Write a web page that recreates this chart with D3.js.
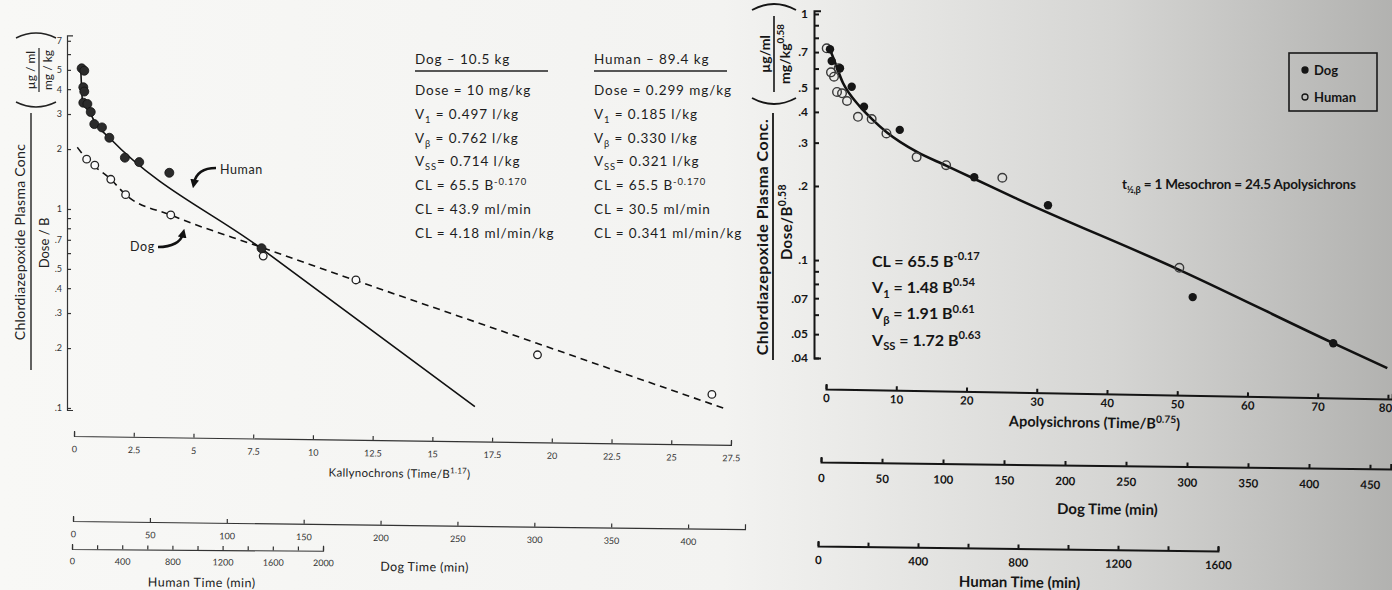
<!DOCTYPE html>
<html>
<head>
<meta charset="utf-8">
<script src="https://cdn.jsdelivr.net/npm/d3@7"></script>
<style>
  body { margin: 0; background: #f6f6f4; }
  svg { display: block; font-family: Lato, "Open Sans", sans-serif; }
</style>
</head>
<body>
<div id="chart"></div>
<script>
// ---------- Left panel: kallynochrons ----------
// filled points (human) and open points (dog), [kallynochrons, conc]
const leftHuman = [[0.32,5.09],[0.43,4.95],[0.39,4.09],[0.43,3.89],[0.39,3.42],[0.56,3.37],[0.70,3.07],
  [0.85,2.67],[1.17,2.57],[1.48,2.28],[2.13,1.81],[2.73,1.72],[3.99,1.52],[7.85,0.635]];
const leftDog = [[0.53,1.78],[0.87,1.66],[1.54,1.41],[2.16,1.18],[4.05,0.933],[7.92,0.580],
  [11.8,0.440],[19.4,0.185],[26.7,0.117]];
// fitted lines
const leftHumanFit = [[0.28,5.19],[0.36,3.46],[0.67,3.04],[0.88,2.72],[1.48,2.28],[7.79,0.639],[16.78,0.1015]];
const leftDogFit = [[0.14,2.04],[0.53,1.78],[1.54,1.41],[2.16,1.18],[4.05,0.933],[7.85,0.641],[19.4,0.211],[27.31,0.0986]];

const leftYTicks = [0.1,0.2,0.3,0.4,0.5,0.6,0.7,0.8,0.9,1,2,3,4,5,6,7];
const leftYLabels = [0.1,0.2,0.3,0.4,0.5,0.7,1,2,3,4,5,7];
const kallyTicks = [0,2.5,5,7.5,10,12.5,15,17.5,20,22.5,25,27.5];
const leftDogTimeTicks = [0,50,100,150,200,250,300,350,400];
const leftHumanTimeTicks = [0,200,400,600,800,1000,1200,1400,1600,1800,2000];
const leftHumanTimeLabels = [0,400,800,1200,1600,2000];

const dogHeader = "Dog – 10.5 kg";
const humanHeader = "Human – 89.4 kg";
const dogTable = ["Dose = 10 mg/kg", "V_{1} = 0.497 l/kg", "V_{β} = 0.762 l/kg", "V_{SS}= 0.714 l/kg",
  "CL = 65.5 B^{-0.170}", "CL = 43.9 ml/min", "CL = 4.18 ml/min/kg"];
const humanTable = ["Dose = 0.299 mg/kg", "V_{1} = 0.185 l/kg", "V_{β} = 0.330 l/kg", "V_{SS}= 0.321 l/kg",
  "CL = 65.5 B^{-0.170}", "CL = 30.5 ml/min", "CL = 0.341 ml/min/kg"];

// ---------- Right panel: apolysichrons ----------
const rightDog = [[0.57,0.719],[0.81,0.644],[1.99,0.602],[3.66,0.506],[5.41,0.420],[10.5,0.338],
  [21.1,0.217],[31.6,0.167],[52.2,0.0707],[72.2,0.0459]];
const rightHuman = [[0.1,0.725],[0.71,0.579],[1.14,0.556],[1.57,0.482],[1.8,0.602],[2.28,0.476],[2.99,0.443],
  [4.55,0.382],[6.5,0.374],[8.6,0.327],[12.9,0.262],[17.1,0.243],[25.1,0.216],[50.3,0.0930]];
const rightFit = [[0.4,0.73],[0.57,0.714],[2.42,0.524],[4.84,0.420],[6.55,0.374],[8.68,0.330],[12.95,0.275],
  [17.1,0.242],[21.1,0.214],[26.9,0.179],[50.2,0.0915],[72.2,0.0460],[79.9,0.0364]];

const rightYTicks = [0.04,0.05,0.06,0.07,0.08,0.09,0.1,0.2,0.3,0.4,0.5,0.6,0.7,0.8,0.9,1];
const rightYLabels = [0.04,0.05,0.07,0.1,0.2,0.3,0.4,0.5,0.7,1];
const apolyTicks = [0,10,20,30,40,50,60,70,80];
const rightDogTimeTicks = [0,50,100,150,200,250,300,350,400,450];
const rightHumanTimeTicks = [0,200,400,600,800,1000,1200,1400,1600];
const rightHumanTimeLabels = [0,400,800,1200,1600];

const rightEquations = ["CL = 65.5 B^{-0.17}", "V_{1} = 1.48 B^{0.54}", "V_{β} = 1.91 B^{0.61}", "V_{SS} = 1.72 B^{0.63}"];
const halfLifeText = "t_{½,β} = 1 Mesochron = 24.5 Apolysichrons";
const legendLabels = ["Dog", "Human"];

// ---------- helpers ----------
const fmtDec = d => d < 1 ? String(d).replace(/^0/, "") : String(d);

// text with _{sub} and ^{sup} pieces
function rich(sel, str, fs) {
  const parts = str.split(/(_\{[^}]*\}|\^\{[^}]*\})/).filter(s => s);
  let shift = 0;
  parts.forEach(p => {
    let off = 0, txt = p, small = false;
    if (p.startsWith("_{")) { txt = p.slice(2, -1); off = 0.3 * fs; small = true; }
    else if (p.startsWith("^{")) { txt = p.slice(2, -1); off = -0.42 * fs; small = true; }
    const t = sel.append("tspan").text(txt);
    if (off - shift !== 0) t.attr("dy", off - shift);
    if (small) t.attr("font-size", fs * 0.7);
    shift = off;
  });
}

const svg = d3.select("#chart")
  .append("svg")
  .attr("width", 1392)
  .attr("height", 590);

// scanned-paper background, darker to the right
const defs = svg.append("defs");
const bg = defs.append("linearGradient").attr("id", "paper").attr("x1", "0%").attr("x2", "100%");
[["0%", "#f8f8f6"], ["52%", "#f3f3f1"], ["62%", "#e9e9e7"], ["80%", "#d5d5d3"], ["100%", "#b2b2b0"]]
  .forEach(s => bg.append("stop").attr("offset", s[0]).attr("stop-color", s[1]));
defs.append("marker")
  .attr("id", "head")
  .attr("viewBox", "0 0 10 10")
  .attr("refX", 4).attr("refY", 5)
  .attr("markerWidth", 3.4).attr("markerHeight", 3.4)
  .attr("orient", "auto")
  .append("path").attr("d", "M0,0 L10,5 L0,10 z").attr("fill", "#111");

svg.append("rect").attr("width", 1392).attr("height", 590).attr("fill", "url(#paper)");

// bottom time axis, slightly tilted like the scan
function timeAxis(scale, ticks, labelled, y, angle, pad, bold) {
  const x0 = scale.range()[0];
  const g = svg.append("g")
    .attr("transform", `translate(0,${y}) rotate(${angle},${x0},0)`)
    .call(d3.axisBottom(scale).tickValues(ticks)
      .tickFormat(d => labelled.includes(d) ? d : "")
      .tickSizeInner(-4).tickSizeOuter(-5).tickPadding(pad));
  g.attr("font-family", null).attr("font-size", null);
  g.selectAll("path, line").attr("stroke", bold ? "#151515" : "#333").attr("stroke-width", bold ? 2 : 1.2);
  g.selectAll("text")
    .attr("fill", bold ? "#151515" : "#333")
    .attr("font-size", bold ? 11.5 : 9)
    .attr("font-weight", bold ? 700 : 400);
  return g;
}

// ================= LEFT PANEL =================
const xL = d3.scaleLinear().domain([0, 27.5]).range([74, 731]);
const yL = d3.scaleLog().domain([0.0977, 7.45]).range([410, 35.4]);

const yAxisL = svg.append("g")
  .attr("transform", "translate(67,0)")
  .call(d3.axisLeft(yL).tickValues(leftYTicks)
    .tickFormat(d => leftYLabels.includes(d) ? fmtDec(d) : "")
    .tickSizeInner(-4).tickSizeOuter(-6).tickPadding(5));
yAxisL.attr("font-family", null).attr("font-size", null);
yAxisL.selectAll("path, line").attr("stroke", "#333").attr("stroke-width", 1.2);
yAxisL.selectAll("text").attr("font-size", 9).attr("fill", "#333");

// y label, rotated fraction
const labL = svg.append("g").attr("transform", "rotate(-90)").attr("fill", "#222");
labL.append("text").attr("x", -242).attr("y", 25).attr("text-anchor", "middle")
  .attr("font-size", 14).attr("letter-spacing", 0.3).text("Chlordiazepoxide Plasma Conc");
labL.append("line").attr("x1", -370).attr("x2", -113).attr("y1", 31).attr("y2", 31)
  .attr("stroke", "#222").attr("stroke-width", 1.4);
labL.append("text").attr("x", -243).attr("y", 49).attr("text-anchor", "middle")
  .attr("font-size", 13).text("Dose / B");
labL.append("text").attr("x", -70).attr("y", 35).attr("text-anchor", "middle")
  .attr("font-size", 12).text("µg / ml");
labL.append("line").attr("x1", -92).attr("x2", -48).attr("y1", 39).attr("y2", 39)
  .attr("stroke", "#222").attr("stroke-width", 1.2);
labL.append("text").attr("x", -70).attr("y", 52).attr("text-anchor", "middle")
  .attr("font-size", 12).text("mg / kg");
labL.append("path").attr("d", "M-102,16 Q-112,36 -102,56").attr("fill", "none").attr("stroke", "#222").attr("stroke-width", 1.4);
labL.append("path").attr("d", "M-38,16 Q-28,36 -38,56").attr("fill", "none").attr("stroke", "#222").attr("stroke-width", 1.4);

// fitted lines
const lineL = d3.line().x(d => xL(d[0])).y(d => yL(d[1])).curve(d3.curveMonotoneX);
svg.append("path").datum(leftHumanFit).attr("d", lineL)
  .attr("fill", "none").attr("stroke", "#111").attr("stroke-width", 1.6);
svg.append("path").datum(leftDogFit).attr("d", lineL)
  .attr("fill", "none").attr("stroke", "#111").attr("stroke-width", 1.6).attr("stroke-dasharray", "7,5");

svg.selectAll("circle.lh").data(leftHuman).join("circle")
  .attr("class", "lh")
  .attr("cx", d => xL(d[0])).attr("cy", d => yL(d[1])).attr("r", 4.5)
  .attr("fill", "#2b2b2b").attr("stroke", "#111").attr("stroke-width", 0.8);
svg.selectAll("circle.ld").data(leftDog).join("circle")
  .attr("class", "ld")
  .attr("cx", d => xL(d[0])).attr("cy", d => yL(d[1])).attr("r", 3.8)
  .attr("fill", "#fbfbfb").attr("stroke", "#222").attr("stroke-width", 1.3);

// curve labels with hooked arrows
svg.append("text").attr("x", 220).attr("y", 174).attr("font-size", 12.5).attr("fill", "#222")
  .attr("letter-spacing", 0.6).text("Human");
svg.append("path").attr("d", "M216,168 C204,168 196,173 194,183")
  .attr("fill", "none").attr("stroke", "#111").attr("stroke-width", 2.6).attr("marker-end", "url(#head)");
svg.append("text").attr("x", 130).attr("y", 251).attr("font-size", 12.5).attr("fill", "#222")
  .attr("letter-spacing", 0.6).text("Dog");
svg.append("path").attr("d", "M158,247 C172,247 181,242 183,234")
  .attr("fill", "none").attr("stroke", "#111").attr("stroke-width", 2.6).attr("marker-end", "url(#head)");

// parameter table
function paramColumn(x, header, rows, lineEnd) {
  const g = svg.append("g").attr("fill", "#1d1d1d").attr("font-size", 13.5).attr("letter-spacing", 0.9);
  g.append("text").attr("x", x).attr("y", 64).text(header);
  g.append("line").attr("x1", x).attr("x2", lineEnd).attr("y1", 71).attr("y2", 71)
    .attr("stroke", "#222").attr("stroke-width", 1.3);
  rows.forEach((r, i) => rich(g.append("text").attr("x", x).attr("y", 95 + i * 23.8), r, 13.5));
}
paramColumn(415, dogHeader, dogTable, 548);
paramColumn(594, humanHeader, humanTable, 727);

// time axes
const kallyG = timeAxis(xL, kallyTicks, kallyTicks, 436, 0.78, 10, false);
kallyG.selectAll(".tick text").text(d => String(d));
rich(kallyG.append("text").attr("x", 400).attr("y", 37).attr("text-anchor", "middle")
  .attr("font-size", 11.5).attr("fill", "#222").attr("letter-spacing", 0.3), "Kallynochrons (Time/B^{1.17})", 11.5);

const dogTL = d3.scaleLinear().domain([0, 437]).range([73, 745]);
const dogLG = timeAxis(dogTL, leftDogTimeTicks, leftDogTimeTicks, 521, 0.7, 10, false);
dogLG.append("text").attr("x", 425).attr("y", 46).attr("text-anchor", "middle")
  .attr("font-size", 12.5).attr("fill", "#222").attr("letter-spacing", 0.4).text("Dog Time (min)");

const humTL = d3.scaleLinear().domain([0, 2000]).range([72, 323]);
const humLG = timeAxis(humTL, leftHumanTimeTicks, leftHumanTimeLabels, 549, 0.4, 9, false);
humLG.append("text").attr("x", 202).attr("y", 37).attr("text-anchor", "middle")
  .attr("font-size", 12.5).attr("fill", "#222").attr("letter-spacing", 0.5).text("Human Time (min)");

// ================= RIGHT PANEL =================
const xR = d3.scaleLinear().domain([0, 80]).range([826, 1388]);
const yR = d3.scaleLog().domain([0.04, 1.03]).range([358, 10.8]);

const yAxisR = svg.append("g")
  .attr("transform", "translate(814,0)")
  .call(d3.axisLeft(yR).tickValues(rightYTicks)
    .tickFormat(d => rightYLabels.includes(d) ? fmtDec(d) : "")
    .tickSizeInner(-5).tickSizeOuter(-7).tickPadding(6));
yAxisR.attr("font-family", null).attr("font-size", null);
yAxisR.selectAll("path, line").attr("stroke", "#151515").attr("stroke-width", 2);
yAxisR.selectAll("text").attr("font-size", 12).attr("font-weight", 700).attr("fill", "#151515");

const labR = svg.append("g").attr("transform", "rotate(-90)").attr("fill", "#151515").attr("font-weight", 700);
labR.append("text").attr("x", -237).attr("y", 768).attr("text-anchor", "middle")
  .attr("font-size", 16).attr("letter-spacing", 0.5).text("Chlordiazepoxide Plasma Conc.");
labR.append("line").attr("x1", -360).attr("x2", -113).attr("y1", 773).attr("y2", 773)
  .attr("stroke", "#151515").attr("stroke-width", 1.8);
rich(labR.append("text").attr("x", -222).attr("y", 792).attr("text-anchor", "middle")
  .attr("font-size", 15).attr("letter-spacing", 0.4), "Dose/B^{0.58}", 15);
labR.append("text").attr("x", -54).attr("y", 770).attr("text-anchor", "middle")
  .attr("font-size", 14).text("µg/ml");
labR.append("line").attr("x1", -92).attr("x2", -16).attr("y1", 774).attr("y2", 774)
  .attr("stroke", "#151515").attr("stroke-width", 1.6);
rich(labR.append("text").attr("x", -54).attr("y", 790).attr("text-anchor", "middle")
  .attr("font-size", 14), "mg/kg^{0.58}", 14);
labR.append("path").attr("d", "M-98,752 Q-110,774 -98,796").attr("fill", "none").attr("stroke", "#151515").attr("stroke-width", 1.8);
labR.append("path").attr("d", "M-10,752 Q2,774 -10,796").attr("fill", "none").attr("stroke", "#151515").attr("stroke-width", 1.8);

const lineR = d3.line().x(d => xR(d[0])).y(d => yR(d[1])).curve(d3.curveMonotoneX);
svg.append("path").datum(rightFit).attr("d", lineR)
  .attr("fill", "none").attr("stroke", "#111").attr("stroke-width", 2.6);

svg.selectAll("circle.rh").data(rightHuman).join("circle")
  .attr("class", "rh")
  .attr("cx", d => xR(d[0])).attr("cy", d => yR(d[1])).attr("r", 4.3)
  .attr("fill", "none").attr("stroke", "#3a3a3a").attr("stroke-width", 1.4);
svg.selectAll("circle.rd").data(rightDog).join("circle")
  .attr("class", "rd")
  .attr("cx", d => xR(d[0])).attr("cy", d => yR(d[1])).attr("r", 4.2)
  .attr("fill", "#161616");

// equations and half-life note
const eqG = svg.append("g").attr("fill", "#151515").attr("font-weight", 700).attr("font-size", 16);
rightEquations.forEach((e, i) => rich(eqG.append("text").attr("x", 872).attr("y", 267 + i * 26.2), e, 16));
rich(eqG.append("text").attr("x", 1122).attr("y", 189).attr("font-size", 13.5).attr("letter-spacing", -0.2), halfLifeText, 13.5);

// legend
const leg = svg.append("g").attr("font-weight", 700).attr("font-size", 13).attr("fill", "#151515");
leg.append("rect").attr("x", 1289).attr("y", 53).attr("width", 88).attr("height", 58)
  .attr("fill", "none").attr("stroke", "#1a1a1a").attr("stroke-width", 1.6);
legendLabels.forEach((lab, i) => {
  const cy = 70 + i * 27;
  leg.append("circle").attr("cx", 1305).attr("cy", cy).attr("r", 3)
    .attr("fill", i === 0 ? "#151515" : "none").attr("stroke", "#151515").attr("stroke-width", 1.3);
  leg.append("text").attr("x", 1314).attr("y", cy + 5).text(lab);
});

// time axes
const apolyScale = d3.scaleLinear().domain([0, 80.6]).range([826, xR(80.6)]);
const apolyG = timeAxis(apolyScale, apolyTicks, apolyTicks, 389, 1.0, 5, true);
apolyG.selectAll(".tick text").filter(d => d === 80).attr("text-anchor", "end").attr("dx", 4);
rich(apolyG.append("text").attr("x", 1095).attr("y", 34).attr("text-anchor", "middle")
  .attr("font-size", 14.5).attr("font-weight", 700).attr("fill", "#151515"), "Apolysichrons (Time/B^{0.75})", 14.5);

const dogTR = d3.scaleLinear().domain([0, 467]).range([821, 821 + 467 * 1.22]);
const dogRG = timeAxis(dogTR, rightDogTimeTicks, rightDogTimeTicks, 462, 0.7, 12, true);
dogRG.append("text").attr("x", 1108).attr("y", 49).attr("text-anchor", "middle")
  .attr("font-size", 15).attr("font-weight", 700).attr("fill", "#151515").text("Dog Time (min)");

const humTR = d3.scaleLinear().domain([0, 1600]).range([818, 1218]);
const humRG = timeAxis(humTR, rightHumanTimeTicks, rightHumanTimeLabels, 546, 0.7, 10, true);
humRG.append("text").attr("x", 1020).attr("y", 39).attr("text-anchor", "middle")
  .attr("font-size", 15).attr("font-weight", 700).attr("fill", "#151515").text("Human Time (min)");
</script>
</body>
</html>
